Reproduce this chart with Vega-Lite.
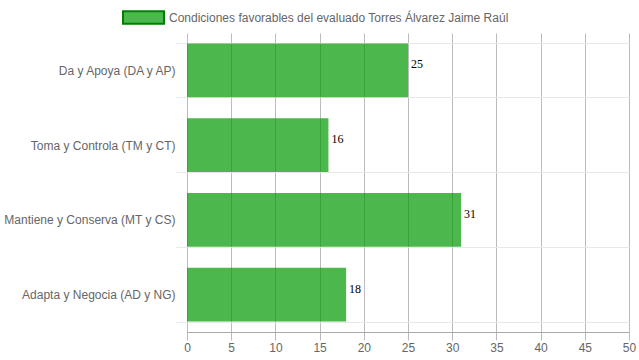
{
  "$schema": "https://vega.github.io/schema/vega-lite/v6.json",
  "width": 442,
  "height": 299,
  "autosize": "none",
  "padding": {"left": 187, "top": 33, "right": 10, "bottom": 28},
  "background": "white",
  "config": {
    "font": "Liberation Sans",
    "view": {"stroke": null}
  },
  "data": {
    "values": [
      {"cat": "Da y Apoya (DA y AP)", "serie": "Condiciones favorables del evaluado Torres Álvarez Jaime Raúl", "valor": 25},
      {"cat": "Toma y Controla (TM y CT)", "serie": "Condiciones favorables del evaluado Torres Álvarez Jaime Raúl", "valor": 16},
      {"cat": "Mantiene y Conserva (MT y CS)", "serie": "Condiciones favorables del evaluado Torres Álvarez Jaime Raúl", "valor": 31},
      {"cat": "Adapta y Negocia (AD y NG)", "serie": "Condiciones favorables del evaluado Torres Álvarez Jaime Raúl", "valor": 18}
    ]
  },
  "encoding": {
    "y": {
      "field": "cat",
      "type": "nominal",
      "sort": null,
      "title": null,
      "scale": {"paddingInner": 0.28, "paddingOuter": 0.14},
      "axis": {
        "tickBand": "extent",
        "grid": true,
        "gridColor": "#e8e8e8",
        "tickColor": "#e8e8e8",
        "tickSize": 11,
        "labelPadding": 1,
        "domain": false,
        "labelColor": "#666666",
        "labelFontSize": 12,
        "labelFont": "Liberation Sans",
        "labelLimit": 300
      }
    }
  },
  "layer": [
    {
      "mark": {"type": "bar", "opacity": 1},
      "encoding": {
        "x": {
          "field": "valor",
          "type": "quantitative",
          "title": null,
          "scale": {"domain": [0, 50], "nice": false},
          "axis": {
            "values": [0, 5, 10, 15, 20, 25, 30, 35, 40, 45, 50],
            "grid": true,
            "gridColor": "#bbbbbb",
            "tickColor": "#bbbbbb",
            "domainColor": "#aaaaaa",
            "tickSize": 8,
            "labelPadding": 2,
            "labelFlush": false,
            "labelColor": "#666666",
            "labelFontSize": 12,
            "labelFont": "Liberation Sans"
          }
        },
        "fill": {
          "field": "serie",
          "type": "nominal",
          "scale": {"range": ["rgba(0,153,0,0.7)"]},
          "legend": {
            "title": null,
            "orient": "none",
            "legendX": -65,
            "legendY": -37,
            "symbolType": "M-1,-0.3H1V0.3H-1Z",
            "symbolSize": 1681,
            "symbolStrokeColor": "#008000",
            "symbolStrokeWidth": 2,
            "symbolOpacity": 1,
            "labelColor": "#666666",
            "labelFontSize": 12,
            "labelFont": "Liberation Sans",
            "labelLimit": 500,
            "labelOffset": 4
          }
        }
      }
    },
    {
      "mark": {"type": "text", "align": "left", "baseline": "alphabetic", "dx": 3, "dy": -2, "font": "Liberation Serif", "fontSize": 12, "color": "#000000"},
      "encoding": {
        "x": {"field": "valor", "type": "quantitative"},
        "text": {"field": "valor", "type": "quantitative"}
      }
    }
  ]
}
